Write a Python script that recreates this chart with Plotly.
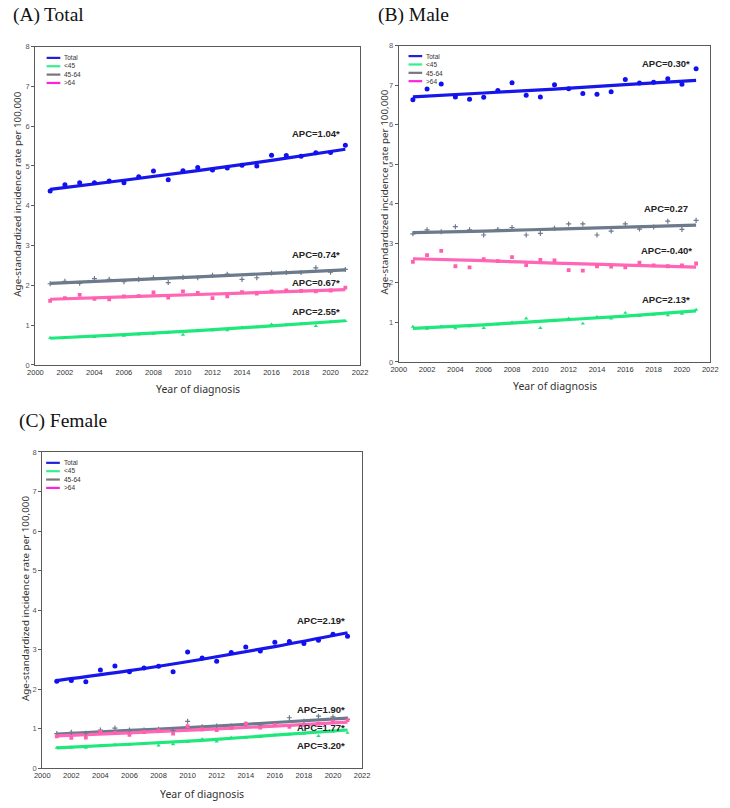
import plotly.graph_objects as go

W, H = 730, 808

years = list(range(2001, 2022))
fit_years = [2001, 2006, 2011, 2016, 2021]
groups = ["Total", "<45", "45-64", ">64"]

# ---------- (A) Total ----------
a_total = [4.37, 4.53, 4.58, 4.58, 4.62, 4.58, 4.73, 4.87, 4.65, 4.88, 4.96,
           4.90, 4.95, 5.02, 5.00, 5.27, 5.26, 5.24, 5.33, 5.34, 5.52]
a_lt45 = [0.68, 0.68, 0.70, 0.70, 0.73, 0.73, 0.77, 0.78, 0.82, 0.76, 0.87,
          0.87, 0.87, 0.94, 0.95, 1.02, 1.01, 1.03, 0.98, 1.08, 1.10]
a_4564 = [2.04, 2.10, 2.05, 2.17, 2.15, 2.09, 2.15, 2.19, 2.07, 2.20, 2.19,
          2.25, 2.28, 2.15, 2.19, 2.31, 2.32, 2.32, 2.44, 2.33, 2.40]
a_gt64 = [1.61, 1.68, 1.76, 1.66, 1.65, 1.72, 1.73, 1.82, 1.69, 1.85, 1.81,
          1.68, 1.72, 1.83, 1.79, 1.85, 1.87, 1.86, 1.85, 1.87, 1.94]
a_fit_total = [4.41, 4.64, 4.88, 5.14, 5.42]
a_fit_lt45 = [0.67, 0.76, 0.86, 0.98, 1.11]
a_fit_4564 = [2.05, 2.13, 2.21, 2.30, 2.39]
a_fit_gt64 = [1.65, 1.71, 1.77, 1.83, 1.89]
a_apc = ["APC=1.04*", "APC=2.55*", "APC=0.74*", "APC=0.67*"]

# ---------- (B) Male ----------
b_total = [6.63, 6.90, 7.03, 6.70, 6.64, 6.69, 6.86, 7.06, 6.74, 6.70, 7.01,
           6.91, 6.79, 6.77, 6.83, 7.14, 7.05, 7.07, 7.16, 7.02, 7.41]
b_lt45 = [0.89, 0.84, 0.90, 0.85, 0.90, 0.86, 0.95, 1.00, 1.10, 0.86, 1.05,
          1.10, 0.97, 1.14, 1.10, 1.24, 1.16, 1.20, 1.18, 1.22, 1.32]
b_4564 = [3.24, 3.34, 3.29, 3.42, 3.34, 3.21, 3.35, 3.40, 3.21, 3.25, 3.38,
          3.49, 3.49, 3.21, 3.31, 3.49, 3.36, 3.41, 3.56, 3.35, 3.58]
b_gt64 = [2.53, 2.70, 2.81, 2.42, 2.39, 2.60, 2.55, 2.65, 2.45, 2.58, 2.57,
          2.32, 2.31, 2.42, 2.41, 2.39, 2.51, 2.44, 2.42, 2.44, 2.49]
b_fit_total = [6.70, 6.80, 6.90, 7.01, 7.12]
b_fit_lt45 = [0.85, 0.94, 1.05, 1.16, 1.29]
b_fit_4564 = [3.27, 3.31, 3.36, 3.41, 3.46]
b_fit_gt64 = [2.61, 2.56, 2.50, 2.45, 2.40]
b_apc = ["APC=0.30*", "APC=2.13*", "APC=0.27", "APC=-0.40*"]

# ---------- (C) Female ----------
c_total = [2.20, 2.22, 2.19, 2.49, 2.59, 2.44, 2.54, 2.58, 2.44, 2.94, 2.79,
           2.71, 2.93, 3.07, 2.97, 3.19, 3.21, 3.16, 3.24, 3.39, 3.34]
c_lt45 = [0.52, 0.53, 0.52, 0.57, 0.60, 0.60, 0.62, 0.58, 0.61, 0.67, 0.74,
          0.68, 0.78, 0.78, 0.80, 0.84, 0.86, 0.88, 0.82, 0.93, 0.90]
c_4564 = [0.88, 0.91, 0.89, 0.97, 1.02, 0.97, 0.97, 0.99, 0.96, 1.19, 1.05,
          1.07, 1.07, 1.12, 1.10, 1.13, 1.28, 1.19, 1.32, 1.30, 1.24]
c_gt64 = [0.81, 0.77, 0.78, 0.93, 0.90, 0.85, 0.92, 0.96, 0.88, 1.07, 0.99,
          0.97, 1.02, 1.13, 1.03, 1.10, 1.05, 1.10, 1.13, 1.18, 1.22]
c_fit_total = [2.22, 2.47, 2.76, 3.08, 3.43]
c_fit_lt45 = [0.52, 0.61, 0.71, 0.84, 0.97]
c_fit_4564 = [0.87, 0.96, 1.05, 1.16, 1.27]
c_fit_gt64 = [0.82, 0.90, 0.98, 1.07, 1.17]
c_apc = ["APC=2.19*", "APC=3.20*", "APC=1.90*", "APC=1.77*"]

panel_titles = ["(A)\u2009Total", "(B) Male", "(C) Female"]
x_ticks = list(range(2000, 2023, 2))
y_ticks = list(range(0, 9))
x_title = "Year of diagnosis"
y_title = "Age-standardized incidence rate per 100,000"

# ---------- styles ----------
line_colors = {"Total": "#1717ea", "<45": "#1fe87c", "45-64": "#6c7a8b", ">64": "#ff66b6"}
mark_colors = {"Total": "#1010f0", "<45": "#1fe07a", "45-64": "#6c7a8b", ">64": "#ff5fae"}
mark_sym = {"Total": "circle", "<45": "triangle-up", "45-64": "cross-thin", ">64": "square"}
mark_size = {"Total": 5, "<45": 3.8, "45-64": 3.6, ">64": 3.8}
legend_colors = {"Total": "#2020d8", "<45": "#33f08a", "45-64": "#777777", ">64": "#ff22dd"}
LEG_FONT = 6.5
LEG_STEP = 1.3 * LEG_FONT


def px(x):
    return x / W


def py(y):
    return 1 - y / H


panels = [
    dict(pts=[a_total, a_lt45, a_4564, a_gt64], fits=[a_fit_total, a_fit_lt45, a_fit_4564, a_fit_gt64],
         apc=a_apc, apc_pos=[(2019.0, 5.81), (2019.0, 1.35), (2019.0, 2.78), (2019.0, 2.07)],
         xd=(28, 360), yd=(43, 365), title_xy=(3, 11), ytitle_x=10, xtitle_y=389,
         leg_x=(39.5, 53.5), leg_y0=54.5),
    dict(pts=[b_total, b_lt45, b_4564, b_gt64], fits=[b_fit_total, b_fit_lt45, b_fit_4564, b_fit_gt64],
         apc=b_apc, apc_pos=[(2018.9, 7.55), (2018.9, 1.575), (2018.9, 3.875), (2018.9, 2.83)],
         xd=(399.5, 718), yd=(42, 362), title_xy=(376, 11), ytitle_x=385, xtitle_y=386,
         leg_x=(409.5, 423.5), leg_y0=52.7),
    dict(pts=[c_total, c_lt45, c_4564, c_gt64], fits=[c_fit_total, c_fit_lt45, c_fit_4564, c_fit_gt64],
         apc=c_apc, apc_pos=[(2019.2, 3.75), (2019.2, 0.575), (2019.2, 1.50), (2019.2, 1.025)],
         xd=(35, 362), yd=(453, 773), title_xy=(9, 422), ytitle_x=18, xtitle_y=799,
         leg_x=(39, 53), leg_y0=464),
]

fig = go.Figure()
annotations = []
shapes = []

for i, p in enumerate(panels):
    n = "" if i == 0 else str(i + 1)
    xa, ya = "x" + n, "y" + n
    # fitted lines
    for gi, g in enumerate(groups):
        fig.add_trace(go.Scatter(x=fit_years, y=p["fits"][gi], mode="lines", line_shape="spline",
                                 line=dict(color=line_colors[g], width=3.2), xaxis=xa, yaxis=ya,
                                 showlegend=False, hoverinfo="skip"))
    for gi, g in enumerate(groups):
        mk = dict(color=mark_colors[g], size=mark_size[g], symbol=mark_sym[g])
        if g == "45-64":
            mk["line"] = dict(color=mark_colors[g], width=1.2)
        fig.add_trace(go.Scatter(x=years, y=p["pts"][gi], mode="markers", marker=mk,
                                 xaxis=xa, yaxis=ya, name=g, showlegend=False))
    # APC labels
    for txt, (ax_, ay_) in zip(p["apc"], p["apc_pos"]):
        annotations.append(dict(x=ax_, y=ay_, xref=xa, yref=ya, text="<b>" + txt + "</b>",
                                showarrow=False, xanchor="center", yanchor="middle",
                                font=dict(family="Liberation Sans", size=9.5, color="#222222")))
    # axes
    axis_common = dict(showline=True, mirror=True, linecolor="#5a5a5a", linewidth=1.2,
                       showgrid=False, zeroline=False)
    fig.update_layout(**{
        "xaxis" + n: dict(domain=[px(p["xd"][0]), px(p["xd"][1])], range=[2000, 2022],
                          tickvals=x_ticks, ticks="", anchor=ya,
                          tickfont=dict(family="Liberation Sans", size=7.5, color="#333333"),
                          **axis_common),
        "yaxis" + n: dict(domain=[py(p["yd"][1]), py(p["yd"][0])], range=[0, 8],
                          tickvals=y_ticks, ticks="outside", ticklen=3, tickcolor="#5a5a5a",
                          anchor=xa,
                          tickfont=dict(family="Liberation Sans", size=7.5, color="#555566"),
                          **axis_common),
    })
    # panel title
    tx, ty = p["title_xy"]
    annotations.append(dict(x=px(tx), y=py(ty), xref="paper", yref="paper", text=panel_titles[i],
                            showarrow=False, xanchor="left", yanchor="middle",
                            font=dict(family="Liberation Serif", size=19.5, color="#111111")))
    # axis titles
    yc = (p["yd"][0] + p["yd"][1]) / 2 - 12
    annotations.append(dict(x=px(p["ytitle_x"]), y=py(yc), xref="paper", yref="paper", text=y_title,
                            showarrow=False, textangle=-90, xanchor="center", yanchor="middle",
                            font=dict(family="Noto Sans", size=9.8, color="#333333")))
    xc = (p["xd"][0] + p["xd"][1]) / 2
    annotations.append(dict(x=px(xc), y=py(p["xtitle_y"]), xref="paper", yref="paper", text=x_title,
                            showarrow=False, xanchor="center", yanchor="middle",
                            font=dict(family="Noto Sans", size=10.5, color="#333333")))
    # manual legend: coloured line samples + one multi-line text block
    for gi, g in enumerate(groups):
        ly = p["leg_y0"] + gi * LEG_STEP
        shapes.append(dict(type="line", xref="paper", yref="paper",
                           x0=px(p["leg_x"][0]), x1=px(p["leg_x"][1]), y0=py(ly), y1=py(ly),
                           line=dict(color=legend_colors[g], width=2.2)))
    leg_text = "<br>".join(g.replace("<", "&lt;").replace(">", "&gt;") for g in groups)
    leg_mid = p["leg_y0"] + 1.5 * LEG_STEP
    annotations.append(dict(x=px(p["leg_x"][1] + 3), y=py(leg_mid), xref="paper", yref="paper",
                            text=leg_text, showarrow=False, xanchor="left", yanchor="middle",
                            align="left", borderpad=0,
                            font=dict(family="Liberation Sans", size=LEG_FONT, color="#333333")))

fig.update_layout(width=W, height=H, margin=dict(l=0, r=0, t=0, b=0),
                  paper_bgcolor="white", plot_bgcolor="white",
                  annotations=annotations, shapes=shapes, showlegend=False)

fig.write_html("out.html")
